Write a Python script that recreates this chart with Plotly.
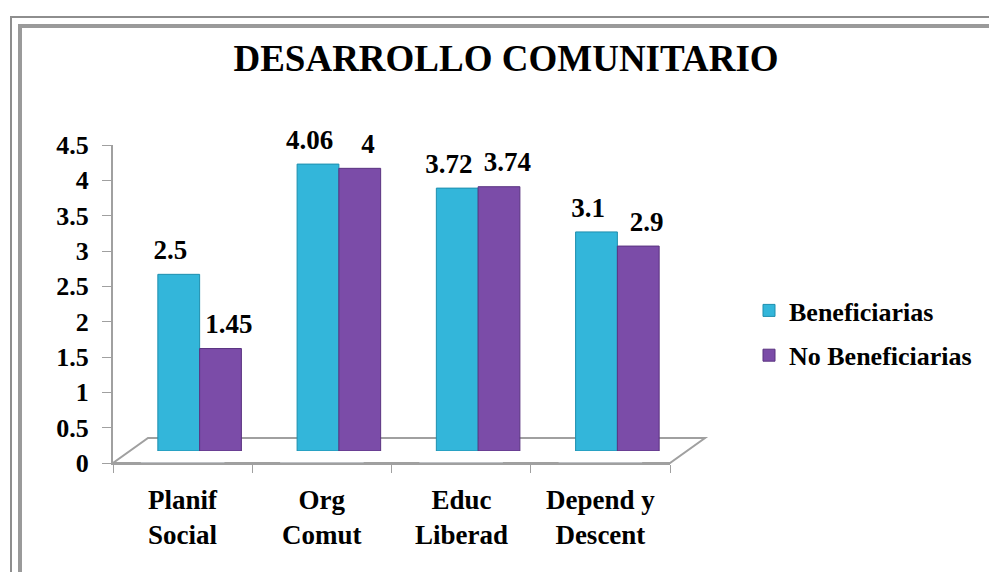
import plotly.graph_objects as go

categories = ["Planif<br>Social", "Org<br>Comut", "Educ<br>Liberad", "Depend y<br>Descent"]
series_names = ["Beneficiarias", "No Beneficiarias"]
beneficiarias = [2.5, 4.06, 3.72, 3.1]
no_beneficiarias = [1.45, 4.0, 3.74, 2.9]
y_ticks = [0, 0.5, 1, 1.5, 2, 2.5, 3, 3.5, 4, 4.5]

W, H = 989, 572
L, R, T, B = 113, 670, 145, 463  # plot area in pixels
pw, ph = R - L, B - T
dx, dy = 17, 12  # 3D depth shift of bars
e = dx / pw
d = dy / ph

FONT = "Liberation Serif"
cyan = "#33B6DA"
purple = "#7B4CA8"

fig = go.Figure()

# invisible trace to anchor the main category axis
fig.add_trace(go.Bar(x=categories, y=[0] * len(categories), showlegend=False,
                     hoverinfo="skip", marker_color="rgba(0,0,0,0)"))

xs = list(range(len(categories)))
label_off = 0.21  # label offset from category centre, in category units
for k, (name, vals, col, edge) in enumerate(
        [(series_names[0], beneficiarias, cyan, "#1E8FAE"),
         (series_names[1], no_beneficiarias, purple, "#5A3380")]):
    fig.add_trace(go.Bar(
        x=xs, y=vals, name=f"<b>{name}</b>",
        xaxis="x2", yaxis="y2",
        marker=dict(color=col, line=dict(color=edge, width=1)),
        legendgroup=name,
    ))
    sign = -1 if k == 0 else 1
    fig.add_trace(go.Scatter(
        x=[x + sign * label_off for x in xs], y=vals, mode="markers+text",
        marker=dict(size=12, color="rgba(0,0,0,0)"),
        text=[f"<b>{v:g}</b>" for v in vals], textposition="top center",
        textfont=dict(family=FONT, size=27, color="black"),
        xaxis="x2", yaxis="y2", showlegend=False, cliponaxis=False, hoverinfo="skip",
    ))

fig.update_layout(
    width=W, height=H,
    margin=dict(l=L, r=W - R, t=T, b=H - B, autoexpand=False),
    paper_bgcolor="white", plot_bgcolor="rgba(0,0,0,0)",
    barmode="group", bargap=0.4, bargroupgap=0,
    font=dict(family=FONT, size=26, color="black"),
    title=dict(text="<b>DESARROLLO COMUNITARIO</b>", x=506 / W, xanchor="center",
               y=1 - 58 / H, yanchor="middle",
               font=dict(family=FONT, size=37, color="black")),
    xaxis=dict(type="category", range=[-0.5, 3.5], showline=True, linecolor="#A0A0A0",
               linewidth=2, ticks="outside", ticklen=8, tickcolor="#A0A0A0",
               tickmode="array", tickvals=[-0.5, 0.5, 1.5, 2.5, 3.5],
               ticktext=["", "", "", "", ""], showgrid=False, zeroline=False),
    xaxis2=dict(domain=[e, 1], range=[-0.5, -0.5 + 4 * (1 - e)],
                visible=False, anchor="y2", fixedrange=True),
    yaxis=dict(range=[0, 4.5], tickvals=y_ticks, ticktext=[f"<b>{v:g}</b>" for v in y_ticks],
               showline=True, linecolor="#A0A0A0", linewidth=2, ticks="outside",
               ticklen=9, tickcolor="#A0A0A0", showgrid=False, zeroline=False,
               ticklabelstandoff=8, tickfont=dict(family=FONT, size=26, color="black")),
    yaxis2=dict(domain=[d, 1], range=[0, 4.5 * (1 - d)],
                visible=False, anchor="x2", fixedrange=True),
    legend=dict(x=(749 - L) / pw, y=(B - 287) / ph, xanchor="left", yanchor="top",
                font=dict(family=FONT, size=26, color="black"),
                tracegroupgap=8, itemwidth=30, bgcolor="rgba(0,0,0,0)"),
    showlegend=True,
)

# category labels as annotations (bold, two lines)
for i, c in enumerate(categories):
    fig.add_annotation(x=i, y=0, xref="x", yref="paper", yshift=-20,
                       text=f"<b>{c}</b>", showarrow=False, yanchor="top",
                       font=dict(family=FONT, size=27, color="black"))

# 3D floor
fx, fy = 35 / pw, 25 / ph
fig.add_shape(type="path", xref="paper", yref="paper", layer="below",
              path=f"M 0 0 L 1 0 L {1 + fx} {fy} L {fx} {fy} Z",
              line=dict(color="#A0A0A0", width=2), fillcolor="white")


def px_x(p):
    return (p - L) / pw


def px_y(p):
    return (B - p) / ph


# double frame
fig.add_shape(type="rect", xref="paper", yref="paper", layer="below",
              x0=px_x(11), x1=px_x(1000), y0=px_y(17), y1=px_y(600),
              line=dict(color="#8E8E8E", width=2))
fig.add_shape(type="rect", xref="paper", yref="paper", layer="below",
              x0=px_x(20), x1=px_x(1000), y0=px_y(26), y1=px_y(600),
              line=dict(color="#9A9A9A", width=4))

fig.write_html("out.html", config={"displayModeBar": False},
               post_script="document.body.style.margin='0';document.body.style.overflow='hidden';")
